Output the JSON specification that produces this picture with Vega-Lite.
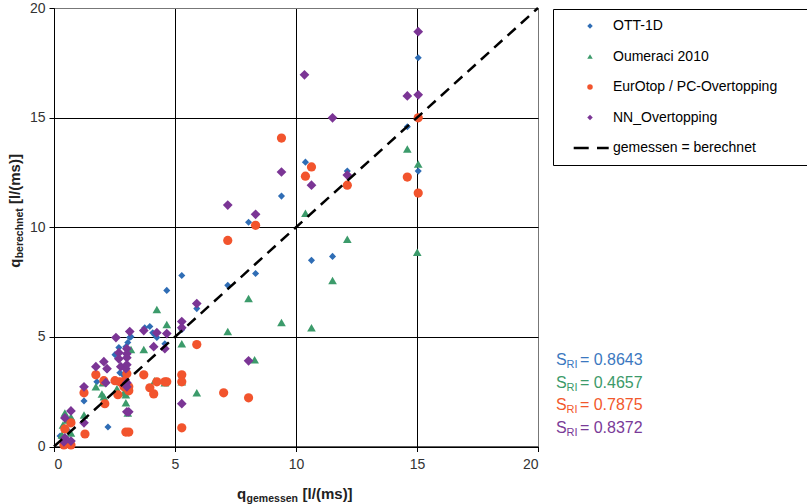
{
  "$schema": "https://vega.github.io/schema/vega-lite/v6.json",
  "width": 484,
  "height": 438.5,
  "autosize": {"type": "none"},
  "padding": {"left": 54, "top": 8, "right": 269, "bottom": 57.5},
  "background": "white",
  "datasets": {
    "pts": [
      {"series":"OTT-1D","gemessen":15.05,"berechnet":17.73},{"series":"OTT-1D","gemessen":14.6,"berechnet":14.58},{"series":"OTT-1D","gemessen":15.05,"berechnet":12.56},{"series":"OTT-1D","gemessen":10.39,"berechnet":12.97},{"series":"OTT-1D","gemessen":12.12,"berechnet":12.56},{"series":"OTT-1D","gemessen":9.4,"berechnet":11.42},{"series":"OTT-1D","gemessen":8.04,"berechnet":10.23},{"series":"OTT-1D","gemessen":10.64,"berechnet":8.49},{"series":"OTT-1D","gemessen":11.51,"berechnet":8.67},{"series":"OTT-1D","gemessen":8.33,"berechnet":7.89},{"series":"OTT-1D","gemessen":7.18,"berechnet":7.35},{"series":"OTT-1D","gemessen":5.28,"berechnet":7.8},{"series":"OTT-1D","gemessen":5.9,"berechnet":6.29},{"series":"OTT-1D","gemessen":4.66,"berechnet":7.12},{"series":"OTT-1D","gemessen":3.96,"berechnet":5.47},{"series":"OTT-1D","gemessen":3.75,"berechnet":5.42},{"series":"OTT-1D","gemessen":4.08,"berechnet":5.19},{"series":"OTT-1D","gemessen":4.25,"berechnet":4.97},{"series":"OTT-1D","gemessen":4.58,"berechnet":4.69},{"series":"OTT-1D","gemessen":5.28,"berechnet":5.33},{"series":"OTT-1D","gemessen":5.28,"berechnet":3.13},{"series":"OTT-1D","gemessen":3.13,"berechnet":4.97},{"series":"OTT-1D","gemessen":3.05,"berechnet":4.74},{"series":"OTT-1D","gemessen":2.68,"berechnet":4.51},{"series":"OTT-1D","gemessen":2.52,"berechnet":4.19},{"series":"OTT-1D","gemessen":2.64,"berechnet":4.0},{"series":"OTT-1D","gemessen":2.72,"berechnet":3.36},{"series":"OTT-1D","gemessen":2.85,"berechnet":3.27},{"series":"OTT-1D","gemessen":2.19,"berechnet":3.5},{"series":"OTT-1D","gemessen":1.77,"berechnet":2.95},{"series":"OTT-1D","gemessen":1.24,"berechnet":2.08},{"series":"OTT-1D","gemessen":2.23,"berechnet":0.89},{"series":"OTT-1D","gemessen":0.54,"berechnet":0.76},{"series":"OTT-1D","gemessen":3.18,"berechnet":5.01},{"series":"OTT-1D","gemessen":2.97,"berechnet":4.55},{"series":"OTT-1D","gemessen":4.16,"berechnet":5.1},{"series":"OTT-1D","gemessen":0.25,"berechnet":0.48},{"series":"OTT-1D","gemessen":0.66,"berechnet":1.03},
      {"series":"Oumeraci 2010","gemessen":14.6,"berechnet":13.57},{"series":"Oumeraci 2010","gemessen":15.05,"berechnet":12.88},{"series":"Oumeraci 2010","gemessen":15.01,"berechnet":8.86},{"series":"Oumeraci 2010","gemessen":10.39,"berechnet":10.64},{"series":"Oumeraci 2010","gemessen":12.12,"berechnet":9.45},{"series":"Oumeraci 2010","gemessen":11.51,"berechnet":7.57},{"series":"Oumeraci 2010","gemessen":8.04,"berechnet":6.75},{"series":"Oumeraci 2010","gemessen":9.4,"berechnet":5.65},{"series":"Oumeraci 2010","gemessen":7.18,"berechnet":5.24},{"series":"Oumeraci 2010","gemessen":8.29,"berechnet":3.96},{"series":"Oumeraci 2010","gemessen":5.9,"berechnet":2.45},{"series":"Oumeraci 2010","gemessen":5.28,"berechnet":4.69},{"series":"Oumeraci 2010","gemessen":4.25,"berechnet":6.25},{"series":"Oumeraci 2010","gemessen":4.66,"berechnet":5.56},{"series":"Oumeraci 2010","gemessen":5.28,"berechnet":2.95},{"series":"Oumeraci 2010","gemessen":4.58,"berechnet":2.91},{"series":"Oumeraci 2010","gemessen":10.64,"berechnet":5.42},{"series":"Oumeraci 2010","gemessen":3.71,"berechnet":4.42},{"series":"Oumeraci 2010","gemessen":3.18,"berechnet":4.42},{"series":"Oumeraci 2010","gemessen":1.73,"berechnet":2.72},{"series":"Oumeraci 2010","gemessen":1.98,"berechnet":2.4},{"series":"Oumeraci 2010","gemessen":2.06,"berechnet":2.27},{"series":"Oumeraci 2010","gemessen":2.6,"berechnet":2.63},{"series":"Oumeraci 2010","gemessen":2.97,"berechnet":2.36},{"series":"Oumeraci 2010","gemessen":2.97,"berechnet":1.99},{"series":"Oumeraci 2010","gemessen":4.16,"berechnet":3.0},{"series":"Oumeraci 2010","gemessen":3.05,"berechnet":1.53},{"series":"Oumeraci 2010","gemessen":1.24,"berechnet":1.44},{"series":"Oumeraci 2010","gemessen":0.45,"berechnet":1.53},{"series":"Oumeraci 2010","gemessen":0.7,"berechnet":1.35},{"series":"Oumeraci 2010","gemessen":0.37,"berechnet":0.98},{"series":"Oumeraci 2010","gemessen":0.7,"berechnet":0.62},{"series":"Oumeraci 2010","gemessen":2.02,"berechnet":2.91},{"series":"Oumeraci 2010","gemessen":2.85,"berechnet":2.91},{"series":"Oumeraci 2010","gemessen":0.54,"berechnet":1.21},{"series":"Oumeraci 2010","gemessen":2.89,"berechnet":2.45},{"series":"Oumeraci 2010","gemessen":0.33,"berechnet":0.53},
      {"series":"EurOtop / PC-Overtopping","gemessen":15.05,"berechnet":14.99},{"series":"EurOtop / PC-Overtopping","gemessen":14.6,"berechnet":12.29},{"series":"EurOtop / PC-Overtopping","gemessen":15.05,"berechnet":11.56},{"series":"EurOtop / PC-Overtopping","gemessen":9.4,"berechnet":14.07},{"series":"EurOtop / PC-Overtopping","gemessen":10.64,"berechnet":12.75},{"series":"EurOtop / PC-Overtopping","gemessen":10.39,"berechnet":12.33},{"series":"EurOtop / PC-Overtopping","gemessen":12.12,"berechnet":11.92},{"series":"EurOtop / PC-Overtopping","gemessen":8.33,"berechnet":10.09},{"series":"EurOtop / PC-Overtopping","gemessen":7.18,"berechnet":9.4},{"series":"EurOtop / PC-Overtopping","gemessen":5.9,"berechnet":4.65},{"series":"EurOtop / PC-Overtopping","gemessen":5.28,"berechnet":3.27},{"series":"EurOtop / PC-Overtopping","gemessen":5.28,"berechnet":2.95},{"series":"EurOtop / PC-Overtopping","gemessen":7.01,"berechnet":2.45},{"series":"EurOtop / PC-Overtopping","gemessen":8.04,"berechnet":2.22},{"series":"EurOtop / PC-Overtopping","gemessen":5.28,"berechnet":0.85},{"series":"EurOtop / PC-Overtopping","gemessen":4.25,"berechnet":2.95},{"series":"EurOtop / PC-Overtopping","gemessen":4.58,"berechnet":2.95},{"series":"EurOtop / PC-Overtopping","gemessen":4.66,"berechnet":2.95},{"series":"EurOtop / PC-Overtopping","gemessen":4.12,"berechnet":2.4},{"series":"EurOtop / PC-Overtopping","gemessen":3.96,"berechnet":2.68},{"series":"EurOtop / PC-Overtopping","gemessen":1.73,"berechnet":3.27},{"series":"EurOtop / PC-Overtopping","gemessen":2.06,"berechnet":3.0},{"series":"EurOtop / PC-Overtopping","gemessen":2.52,"berechnet":3.0},{"series":"EurOtop / PC-Overtopping","gemessen":2.72,"berechnet":2.95},{"series":"EurOtop / PC-Overtopping","gemessen":2.93,"berechnet":3.0},{"series":"EurOtop / PC-Overtopping","gemessen":3.01,"berechnet":3.32},{"series":"EurOtop / PC-Overtopping","gemessen":3.71,"berechnet":3.27},{"series":"EurOtop / PC-Overtopping","gemessen":2.1,"berechnet":1.95},{"series":"EurOtop / PC-Overtopping","gemessen":2.64,"berechnet":2.36},{"series":"EurOtop / PC-Overtopping","gemessen":2.89,"berechnet":2.72},{"series":"EurOtop / PC-Overtopping","gemessen":3.09,"berechnet":2.72},{"series":"EurOtop / PC-Overtopping","gemessen":3.09,"berechnet":2.54},{"series":"EurOtop / PC-Overtopping","gemessen":1.24,"berechnet":2.45},{"series":"EurOtop / PC-Overtopping","gemessen":1.28,"berechnet":0.57},{"series":"EurOtop / PC-Overtopping","gemessen":2.97,"berechnet":0.66},{"series":"EurOtop / PC-Overtopping","gemessen":3.09,"berechnet":0.66},{"series":"EurOtop / PC-Overtopping","gemessen":0.7,"berechnet":1.08},{"series":"EurOtop / PC-Overtopping","gemessen":0.45,"berechnet":0.8},{"series":"EurOtop / PC-Overtopping","gemessen":0.41,"berechnet":0.07},{"series":"EurOtop / PC-Overtopping","gemessen":0.7,"berechnet":0.07},
      {"series":"NN_Overtopping","gemessen":15.05,"berechnet":18.92},{"series":"NN_Overtopping","gemessen":14.6,"berechnet":15.99},{"series":"NN_Overtopping","gemessen":15.05,"berechnet":16.04},{"series":"NN_Overtopping","gemessen":10.35,"berechnet":16.95},{"series":"NN_Overtopping","gemessen":11.51,"berechnet":14.99},{"series":"NN_Overtopping","gemessen":9.4,"berechnet":12.52},{"series":"NN_Overtopping","gemessen":10.64,"berechnet":11.92},{"series":"NN_Overtopping","gemessen":12.12,"berechnet":12.38},{"series":"NN_Overtopping","gemessen":7.18,"berechnet":11.01},{"series":"NN_Overtopping","gemessen":8.33,"berechnet":10.59},{"series":"NN_Overtopping","gemessen":5.9,"berechnet":6.52},{"series":"NN_Overtopping","gemessen":5.28,"berechnet":5.7},{"series":"NN_Overtopping","gemessen":5.28,"berechnet":5.42},{"series":"NN_Overtopping","gemessen":8.04,"berechnet":3.91},{"series":"NN_Overtopping","gemessen":5.28,"berechnet":1.95},{"series":"NN_Overtopping","gemessen":4.25,"berechnet":5.19},{"series":"NN_Overtopping","gemessen":4.66,"berechnet":5.15},{"series":"NN_Overtopping","gemessen":4.12,"berechnet":4.55},{"series":"NN_Overtopping","gemessen":4.58,"berechnet":4.46},{"series":"NN_Overtopping","gemessen":2.56,"berechnet":4.97},{"series":"NN_Overtopping","gemessen":3.13,"berechnet":5.24},{"series":"NN_Overtopping","gemessen":3.71,"berechnet":5.29},{"series":"NN_Overtopping","gemessen":3.01,"berechnet":4.46},{"series":"NN_Overtopping","gemessen":2.68,"berechnet":4.28},{"series":"NN_Overtopping","gemessen":3.01,"berechnet":4.23},{"series":"NN_Overtopping","gemessen":2.68,"berechnet":4.0},{"series":"NN_Overtopping","gemessen":3.01,"berechnet":4.05},{"series":"NN_Overtopping","gemessen":2.06,"berechnet":3.87},{"series":"NN_Overtopping","gemessen":1.73,"berechnet":3.64},{"series":"NN_Overtopping","gemessen":2.19,"berechnet":3.55},{"series":"NN_Overtopping","gemessen":2.76,"berechnet":3.64},{"series":"NN_Overtopping","gemessen":2.97,"berechnet":3.55},{"series":"NN_Overtopping","gemessen":3.01,"berechnet":3.73},{"series":"NN_Overtopping","gemessen":2.14,"berechnet":2.91},{"series":"NN_Overtopping","gemessen":3.01,"berechnet":2.91},{"series":"NN_Overtopping","gemessen":3.01,"berechnet":2.72},{"series":"NN_Overtopping","gemessen":1.24,"berechnet":2.72},{"series":"NN_Overtopping","gemessen":3.01,"berechnet":1.58},{"series":"NN_Overtopping","gemessen":3.09,"berechnet":1.58},{"series":"NN_Overtopping","gemessen":1.24,"berechnet":1.08},{"series":"NN_Overtopping","gemessen":0.7,"berechnet":1.62},{"series":"NN_Overtopping","gemessen":0.45,"berechnet":1.3},{"series":"NN_Overtopping","gemessen":0.45,"berechnet":0.39},{"series":"NN_Overtopping","gemessen":0.7,"berechnet":0.25},{"series":"NN_Overtopping","gemessen":0.41,"berechnet":0.21}
    ]
  },
  "config": {
    "view": {"stroke": "#777", "strokeWidth": 1},
    "font": "Liberation Sans",
    "axis": {
      "domainColor": "#000", "domainWidth": 1, "tickColor": "#000", "tickSize": 5,
      "gridColor": {"condition": {"test": "datum.value === 20", "value": "#777"}, "value": "#000"},
      "gridWidth": 1, "gridOpacity": 1,
      "labelFont": "Liberation Sans", "labelFontSize": 14, "labelColor": "#333", "title": null
    },
    "axisX": {"labelPadding": 6},
    "axisY": {"labelPadding": 4},
    "legend": {
      "orient": "none", "legendX": 499, "legendY": 1, "title": null,
      "strokeColor": "#000", "fillColor": "#fff", "padding": 10,
      "symbolOffset": 20, "labelOffset": 16, "rowPadding": 16.5,
      "labelFontSize": 14, "labelFont": "Liberation Sans", "labelColor": "#000",
      "symbolSize": 30, "symbolStrokeWidth": 0, "labelLimit": 400
    }
  },
  "layer": [
    {
      "layer": [
        {
          "data": {"name": "pts"},
          "encoding": {
            "x": {"field": "gemessen", "type": "quantitative", "scale": {"domain": [0, 20], "nice": false}, "axis": {"values": [0, 5, 10, 15, 20]}},
            "y": {"field": "berechnet", "type": "quantitative", "scale": {"domain": [0, 20], "nice": false}, "axis": {"values": [0, 5, 10, 15, 20]}},
            "color": {"field": "series", "type": "nominal",
              "scale": {"domain": ["OTT-1D", "Oumeraci 2010", "EurOtop / PC-Overtopping", "NN_Overtopping", "gemessen = berechnet"],
                        "range": ["#2f6db5", "#3c9b6b", "#f2542d", "#7b3595", "#000000"]},
              "legend": {"symbolType": {"expr": "datum.value === 'OTT-1D' || datum.value === 'NN_Overtopping' ? 'diamond' : datum.value === 'Oumeraci 2010' ? 'triangle-up' : datum.value === 'EurOtop / PC-Overtopping' ? 'circle' : 'M-5.95,-0.45H-0.47V0.45H-5.95Z M2.56,-0.45H6.83V0.45H2.56Z M75.9,0L75.9,0.01'"}}},
            "shape": {"field": "series", "type": "nominal", "legend": null,
              "scale": {"domain": ["OTT-1D", "Oumeraci 2010", "EurOtop / PC-Overtopping", "NN_Overtopping"],
                        "range": ["diamond", "triangle-up", "circle", "diamond"]}}
          },
          "layer": [
            {"transform": [{"filter": "datum.series === 'OTT-1D'"}], "mark": {"type": "point", "filled": true, "opacity": 1, "strokeWidth": 0, "size": 50}},
            {"transform": [{"filter": "datum.series === 'Oumeraci 2010'"}], "mark": {"type": "point", "filled": true, "opacity": 1, "strokeWidth": 0, "size": 75}},
            {"transform": [{"filter": "datum.series === 'EurOtop / PC-Overtopping'"}], "mark": {"type": "point", "filled": true, "opacity": 1, "strokeWidth": 0, "size": 85}},
            {"transform": [{"filter": "datum.series === 'NN_Overtopping'"}], "mark": {"type": "point", "filled": true, "opacity": 1, "strokeWidth": 0, "size": 95}}
          ]
        },
        {
          "data": {"values": [{"gemessen": 0, "berechnet": 0}, {"gemessen": 20, "berechnet": 20}]},
          "mark": {"type": "line", "color": "#000", "strokeWidth": 2.5, "strokeDash": [11, 7]},
          "encoding": {
            "x": {"field": "gemessen", "type": "quantitative"},
            "y": {"field": "berechnet", "type": "quantitative"}
          }
        },
        {
          "data": {"values": [{}]},
          "encoding": {"x": {"datum": 7.567}, "y": {"datum": -2.4}},
          "layer": [
            {"mark": {"type": "text", "text": "q", "align": "left", "baseline": "alphabetic", "fontSize": 15, "fontWeight": "bold", "color": "#222"}},
            {"mark": {"type": "text", "text": "gemessen", "align": "left", "baseline": "alphabetic", "fontSize": 10.5, "fontWeight": "bold", "color": "#222", "dx": 9.5, "dy": 2.5}},
            {"mark": {"type": "text", "text": "[l/(ms)]", "align": "left", "baseline": "alphabetic", "fontSize": 15, "fontWeight": "bold", "color": "#222", "dx": 65.5}}
          ]
        },
        {
          "data": {"values": [{}]},
          "encoding": {"x": {"datum": -1.402}, "y": {"datum": 8.15}},
          "layer": [
            {"mark": {"type": "text", "text": "q", "align": "left", "baseline": "alphabetic", "angle": 270, "fontSize": 15, "fontWeight": "bold", "color": "#222"}},
            {"mark": {"type": "text", "text": "berechnet", "align": "left", "baseline": "alphabetic", "angle": 270, "fontSize": 10.5, "fontWeight": "bold", "color": "#222", "dx": 9.5, "dy": 2.5}},
            {"mark": {"type": "text", "text": "[l/(ms)]", "align": "left", "baseline": "alphabetic", "angle": 270, "fontSize": 15, "fontWeight": "bold", "color": "#222", "dx": 63.7}}
          ]
        }
      ]
    },
    {
      "data": {"values": [
        {"series": "OTT-1D", "value": "= 0.8643"},
        {"series": "Oumeraci 2010", "value": "= 0.4657"},
        {"series": "EurOtop / PC-Overtopping", "value": "= 0.7875"},
        {"series": "NN_Overtopping", "value": "= 0.8372"}
      ]},
      "encoding": {
        "x": {"datum": 20.74},
        "y": {"field": "series", "type": "nominal", "axis": null,
              "scale": {"type": "point", "padding": 0, "domain": ["OTT-1D", "Oumeraci 2010", "EurOtop / PC-Overtopping", "NN_Overtopping"], "range": [357, 424.5]}},
        "color": {"field": "series", "type": "nominal", "legend": null,
              "scale": {"domain": ["OTT-1D", "Oumeraci 2010", "EurOtop / PC-Overtopping", "NN_Overtopping"], "range": ["#3b78c0", "#3c9a6a", "#f2582c", "#7a3a98"]}}
      },
      "layer": [
        {"mark": {"type": "text", "text": "S", "align": "left", "baseline": "alphabetic", "fontSize": 16}},
        {"mark": {"type": "text", "text": "RI", "align": "left", "baseline": "alphabetic", "fontSize": 11, "dx": 10.7, "dy": 3}},
        {"mark": {"type": "text", "align": "left", "baseline": "alphabetic", "fontSize": 16, "dx": 24}, "encoding": {"text": {"field": "value"}}}
      ]
    }
  ],
  "resolve": {"scale": {"y": "independent", "color": "independent"}}
}
